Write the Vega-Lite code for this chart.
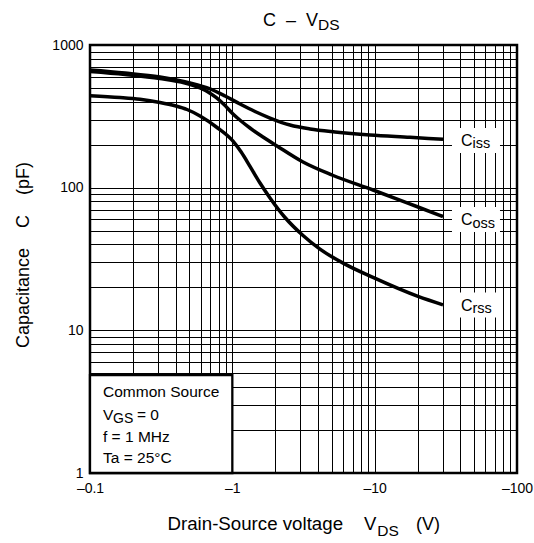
{
  "$schema": "https://vega.github.io/schema/vega-lite/v6.json",
  "width": 427,
  "height": 428,
  "autosize": {"type": "none"},
  "padding": {"left": 90, "top": 45, "right": 17, "bottom": 70},
  "background": "white",
  "config": {
    "font": "Liberation Sans",
    "view": {"stroke": "black", "strokeWidth": 2.5},
    "text": {"font": "Liberation Sans", "color": "black"}
  },
  "encoding": {
    "x": {
      "field": "x",
      "type": "quantitative",
      "scale": {"type": "log", "domain": [0.1, 100], "nice": false},
      "axis": {
        "values": [0.1, 0.2, 0.3, 0.4, 0.5, 0.6, 0.7, 0.8, 0.9, 1, 2, 3, 4, 5, 6, 7, 8, 9, 10, 20, 30, 40, 50, 60, 70, 80, 90, 100],
        "labelExpr": "datum.value == 0.1 ? '–0.1' : datum.value == 1 ? '–1' : datum.value == 10 ? '–10' : datum.value == 100 ? '–100' : ''",
        "title": null,
        "grid": true,
        "gridColor": "black",
        "gridWidth": 1,
        "gridOpacity": 1,
        "ticks": false,
        "domain": false,
        "labelFont": "Liberation Sans",
        "labelFontSize": 14,
        "labelColor": "black",
        "labelPadding": 8,
        "labelOverlap": false,
        "labelFlush": false,
        "labelBound": false
      }
    },
    "y": {
      "field": "y",
      "type": "quantitative",
      "scale": {"type": "log", "domain": [1, 1000], "nice": false},
      "axis": {
        "values": [1, 2, 3, 4, 5, 6, 7, 8, 9, 10, 20, 30, 40, 50, 60, 70, 80, 90, 100, 200, 300, 400, 500, 600, 700, 800, 900, 1000],
        "labelExpr": "datum.value == 1 ? '1' : datum.value == 10 ? '10' : datum.value == 100 ? '100' : datum.value == 1000 ? '1000' : ''",
        "title": "Capacitance\u00a0\u00a0\u00a0\u00a0C\u00a0\u00a0\u00a0\u00a0(pF)",
        "titleFont": "Liberation Sans",
        "titleFontSize": 18,
        "titleFontWeight": "normal",
        "titleColor": "black",
        "titleAngle": -90,
        "titleBaseline": "alphabetic",
        "titleAlign": "center",
        "titleX": -61.5,
        "titleY": 209.5,
        "grid": true,
        "gridColor": "black",
        "gridWidth": 1,
        "gridOpacity": 1,
        "ticks": false,
        "domain": false,
        "labelFont": "Liberation Sans",
        "labelFontSize": 14,
        "labelColor": "black",
        "labelPadding": 7,
        "labelOverlap": false,
        "labelFlush": false,
        "labelBound": false
      }
    }
  },
  "layer": [
    {
      "data": {"values": [
        {"s": "Ciss", "x": 0.1, "y": 668}, {"s": "Ciss", "x": 0.1762, "y": 636.4}, {"s": "Ciss", "x": 0.3102, "y": 596.7}, {"s": "Ciss", "x": 0.5042, "y": 541.6}, {"s": "Ciss", "x": 0.6969, "y": 491.6}, {"s": "Ciss", "x": 0.8881, "y": 439.1}, {"s": "Ciss", "x": 1.1321, "y": 385.9}, {"s": "Ciss", "x": 1.443, "y": 342.0}, {"s": "Ciss", "x": 1.8393, "y": 307.8}, {"s": "Ciss", "x": 2.5424, "y": 274.9}, {"s": "Ciss", "x": 3.5133, "y": 257.8}, {"s": "Ciss", "x": 5.2647, "y": 245.6}, {"s": "Ciss", "x": 9.2743, "y": 233.9}, {"s": "Ciss", "x": 17.713, "y": 225.4}, {"s": "Ciss", "x": 30.215, "y": 218.3},
        {"s": "Coss", "x": 0.1, "y": 652.0}, {"s": "Coss", "x": 0.1762, "y": 621.2}, {"s": "Coss", "x": 0.3102, "y": 582.4}, {"s": "Coss", "x": 0.465, "y": 541.6}, {"s": "Coss", "x": 0.5928, "y": 499.6}, {"s": "Coss", "x": 0.6747, "y": 468.4}, {"s": "Coss", "x": 0.7678, "y": 428.6}, {"s": "Coss", "x": 0.8738, "y": 382.8}, {"s": "Coss", "x": 1.0109, "y": 328.5}, {"s": "Coss", "x": 1.1506, "y": 293.3}, {"s": "Coss", "x": 1.3308, "y": 262.0}, {"s": "Coss", "x": 1.5646, "y": 233.9}, {"s": "Coss", "x": 2.0597, "y": 196.0}, {"s": "Coss", "x": 3.1374, "y": 151.3}, {"s": "Coss", "x": 5.0151, "y": 122.7}, {"s": "Coss", "x": 9.7351, "y": 96.3}, {"s": "Coss", "x": 20.163, "y": 73.2}, {"s": "Coss", "x": 30.215, "y": 62.8},
        {"s": "Crss", "x": 0.1, "y": 441.2}, {"s": "Crss", "x": 0.1625, "y": 428.6}, {"s": "Crss", "x": 0.2245, "y": 416.3}, {"s": "Crss", "x": 0.3102, "y": 395.4}, {"s": "Crss", "x": 0.3955, "y": 374.9}, {"s": "Crss", "x": 0.4803, "y": 353.1}, {"s": "Crss", "x": 0.5928, "y": 317.9}, {"s": "Crss", "x": 0.7803, "y": 264.1}, {"s": "Crss", "x": 1.0109, "y": 211.7}, {"s": "Crss", "x": 1.1506, "y": 178.4}, {"s": "Crss", "x": 1.3308, "y": 141.1}, {"s": "Crss", "x": 1.5646, "y": 107.8}, {"s": "Crss", "x": 1.8393, "y": 84.7}, {"s": "Crss", "x": 2.3446, "y": 61.8}, {"s": "Crss", "x": 3.1374, "y": 46.2}, {"s": "Crss", "x": 4.1297, "y": 37.1}, {"s": "Crss", "x": 6.1867, "y": 29.1}, {"s": "Crss", "x": 9.7351, "y": 23.5}, {"s": "Crss", "x": 20.163, "y": 17.3}, {"s": "Crss", "x": 30.215, "y": 15.1}
      ]},
      "mark": {"type": "line", "color": "black", "strokeWidth": 3.5, "interpolate": "monotone"},
      "encoding": {"detail": {"field": "s"}}
    },
    {
      "data": {"values": [{"x": 0.1, "x2": 1, "y": 1, "y2": 4.85}]},
      "mark": {"type": "rect", "fill": "white", "stroke": "black", "strokeWidth": 2.3},
      "encoding": {"x2": {"field": "x2"}, "y2": {"field": "y2"}}
    },
    {
      "data": {"values": [
        {"t": "Common Source", "x": 0.1234, "y": 3.41},
        {"t": "V", "x": 0.1234, "y": 2.353},
        {"t": "f = 1 MHz", "x": 0.1234, "y": 1.65},
        {"t": "Ta = 25°C", "x": 0.1234, "y": 1.176}
      ]},
      "mark": {"type": "text", "align": "left", "baseline": "alphabetic", "fontSize": 15.5, "color": "black"},
      "encoding": {"text": {"field": "t"}}
    },
    {
      "data": {"values": [{"x": 0.1234, "y": 2.353}]},
      "mark": {"type": "text", "text": "GS", "align": "left", "baseline": "alphabetic", "fontSize": 14, "dx": 10, "dy": 3, "color": "black"}
    },
    {
      "data": {"values": [{"x": 0.1234, "y": 2.353}]},
      "mark": {"type": "text", "text": "= 0", "align": "left", "baseline": "alphabetic", "fontSize": 15.5, "dx": 34, "color": "black"}
    },
    {
      "data": {"values": [
        {"s": "iss", "x": 51.5, "y": 214.1},
        {"s": "oss", "x": 51.5, "y": 59.8},
        {"s": "rss", "x": 51.5, "y": 15.05}
      ]},
      "mark": {"type": "point", "shape": "M-1,-0.52H1V0.52H-1Z", "size": 2304, "filled": true, "fill": "white", "color": "white", "opacity": 1, "strokeWidth": 0}
    },
    {
      "data": {"values": [
        {"s": "iss", "x": 51.5, "y": 214.1},
        {"s": "oss", "x": 51.5, "y": 59.8},
        {"s": "rss", "x": 51.5, "y": 15.05}
      ]},
      "mark": {"type": "text", "text": "C", "align": "left", "baseline": "alphabetic", "fontSize": 16, "dx": -15, "dy": 5.5, "color": "black"}
    },
    {
      "data": {"values": [
        {"s": "iss", "x": 51.5, "y": 214.1},
        {"s": "oss", "x": 51.5, "y": 59.8},
        {"s": "rss", "x": 51.5, "y": 15.05}
      ]},
      "mark": {"type": "text", "align": "left", "baseline": "alphabetic", "fontSize": 14.5, "dx": -3.5, "dy": 8, "color": "black"},
      "encoding": {"text": {"field": "s"}}
    },
    {
      "data": {"values": [{"x": 4.0, "y": 1366}]},
      "mark": {"type": "text", "text": "C\u00a0\u00a0–\u00a0\u00a0V", "align": "right", "baseline": "alphabetic", "fontSize": 18, "color": "black"}
    },
    {
      "data": {"values": [{"x": 4.0, "y": 1366}]},
      "mark": {"type": "text", "text": "DS", "align": "left", "baseline": "alphabetic", "fontSize": 15.5, "dy": 4.3, "color": "black"}
    },
    {
      "data": {"values": [{"x": 8.42, "y": 0.3985}]},
      "mark": {"type": "text", "text": "Drain-Source voltage", "align": "right", "baseline": "alphabetic", "fontSize": 18.7, "dx": -21, "color": "black"}
    },
    {
      "data": {"values": [{"x": 8.42, "y": 0.3985}]},
      "mark": {"type": "text", "text": "V", "align": "left", "baseline": "alphabetic", "fontSize": 18.5, "color": "black"}
    },
    {
      "data": {"values": [{"x": 8.42, "y": 0.3985}]},
      "mark": {"type": "text", "text": "DS", "align": "left", "baseline": "alphabetic", "fontSize": 15.5, "dx": 13.3, "dy": 6, "color": "black"}
    },
    {
      "data": {"values": [{"x": 8.42, "y": 0.3985}]},
      "mark": {"type": "text", "text": "(V)", "align": "left", "baseline": "alphabetic", "fontSize": 18, "dx": 52, "color": "black"}
    }
  ]
}
